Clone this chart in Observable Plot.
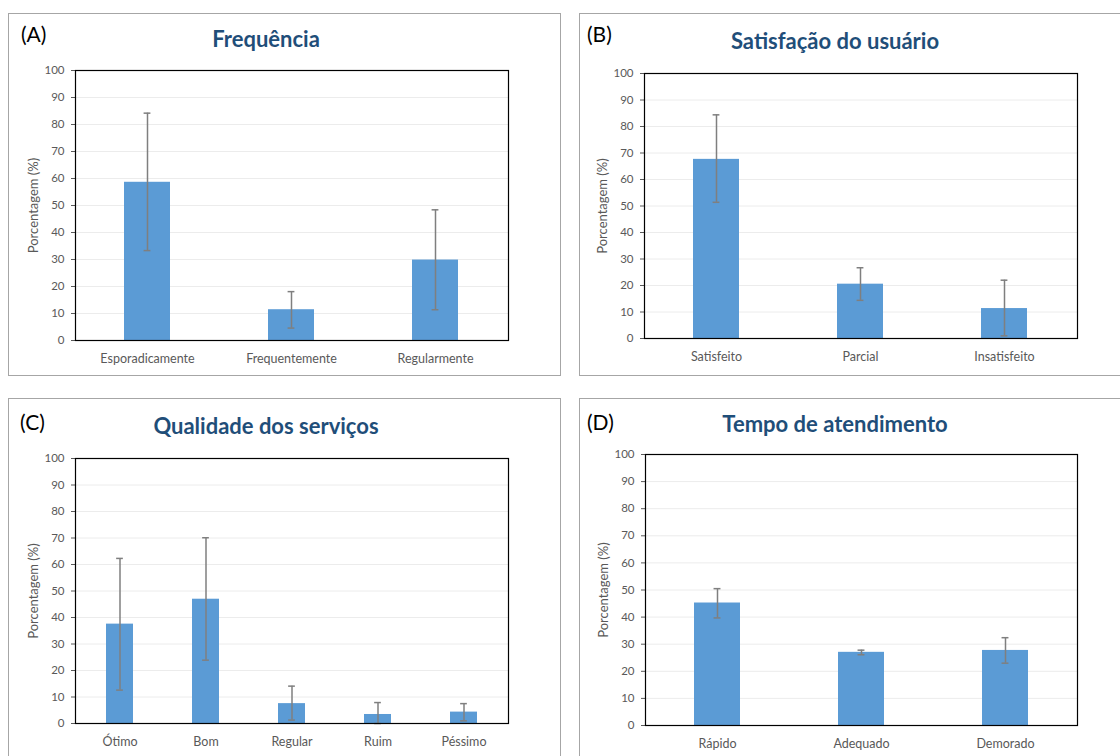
<!DOCTYPE html>
<html><head><meta charset="utf-8">
<script src="https://cdn.jsdelivr.net/npm/d3@7"></script>
<script src="https://cdn.jsdelivr.net/npm/@observablehq/plot@0.6"></script>
<style>
body{margin:0;background:#fff;font-family:Lato,sans-serif}
#root{position:relative;width:1120px;height:756px;overflow:hidden;background:#fff}
.panel{position:absolute;border:1.5px solid #a6a6a6;box-sizing:border-box;background:#fff}
.tag{position:absolute;font-size:21px;color:#000;line-height:1;font-family:Lato,sans-serif}
.title{position:absolute;font-size:22px;font-weight:bold;color:#1f4e79;transform:translateX(-50%);white-space:nowrap;line-height:1;font-family:Lato,sans-serif}
.chart{position:absolute}
</style></head><body><div id="root"></div>
<script>
// ---- data ----
const yTicks = [0,10,20,30,40,50,60,70,80,90,100];
const yLabel = "Porcentagem (%)";

const titleA = "Frequência";
const catsA = ["Esporadicamente","Frequentemente","Regularmente"];
const valsA = [58.6, 11.4, 29.8];
const lowA  = [33.3, 4.6, 11.4];
const highA = [84.2, 18.1, 48.4];

const titleB = "Satisfação do usuário";
const catsB = ["Satisfeito","Parcial","Insatisfeito"];
const valsB = [67.6, 20.5, 11.3];
const lowB  = [51.4, 14.4, 1.0];
const highB = [84.4, 26.7, 22.0];

const titleC = "Qualidade dos serviços";
const catsC = ["Ótimo","Bom","Regular","Ruim","Péssimo"];
const valsC = [37.5, 46.9, 7.5, 3.4, 4.3];
const lowC  = [12.6, 23.9, 1.3, 0.0, 1.0];
const highC = [62.3, 70.1, 14.1, 7.9, 7.5];

const titleD = "Tempo de atendimento";
const catsD = ["Rápido","Adequado","Demorado"];
const valsD = [45.2, 27.0, 27.7];
const lowD  = [39.7, 26.1, 23.0];
const highD = [50.5, 27.8, 32.4];

// ---- layout ----
const panels = [
  {tag:"(A)", title:titleA, cats:catsA, vals:valsA, lo:lowA, hi:highA,
   box:[8,13,553,363], tagPos:[21,23], titleX:266, titleTop:27.5,
   fl:75, fr:508, ft:70, fb:340, pad:0.68},
  {tag:"(B)", title:titleB, cats:catsB, vals:valsB, lo:lowB, hi:highB,
   box:[579,13,560,363], tagPos:[587,23], titleX:835, titleTop:29.5,
   fl:644, fr:1077, ft:73, fb:338, pad:0.68},
  {tag:"(C)", title:titleC, cats:catsC, vals:valsC, lo:lowC, hi:highC,
   box:[8,398,553,400], tagPos:[20,411], titleX:266, titleTop:414.5,
   fl:75, fr:508, ft:458, fb:723, pad:0.685},
  {tag:"(D)", title:titleD, cats:catsD, vals:valsD, lo:lowD, hi:highD,
   box:[579,398,560,400], tagPos:[587,411], titleX:835, titleTop:412.5,
   fl:645, fr:1077, ft:454, fb:725, pad:0.68}
];

const root = document.getElementById("root");
for (const p of panels) {
  const box = document.createElement("div");
  box.className = "panel";
  Object.assign(box.style, {left:p.box[0]+"px", top:p.box[1]+"px", width:p.box[2]+"px", height:p.box[3]+"px"});
  root.appendChild(box);

  const tag = document.createElement("div");
  tag.className = "tag"; tag.textContent = p.tag;
  Object.assign(tag.style, {left:p.tagPos[0]+"px", top:p.tagPos[1]+"px"});
  root.appendChild(tag);

  const t = document.createElement("div");
  t.className = "title"; t.textContent = p.title;
  Object.assign(t.style, {left:p.titleX+"px", top:p.titleTop+"px"});
  root.appendChild(t);

  const data = p.cats.map((c,i)=>({cat:c, v:p.vals[i], lo:p.lo[i], hi:p.hi[i]}));
  const fw = p.fr - p.fl, fh = p.fb - p.ft;
  const ml = 60, mr = 20, mt = 12, mb = 34;
  const bw = fw / p.cats.length * (1 - p.pad);
  const capInset = (bw - 7) / 2;
  const errStyle = {stroke:"#7f7f7f", strokeWidth:1.5};
  const svg = Plot.plot({
    width: fw + ml + mr, height: fh + mt + mb,
    marginLeft: ml, marginRight: mr, marginTop: mt, marginBottom: mb,
    style: {fontFamily:"Lato, sans-serif", fontSize:"11.5px", color:"#595959", background:"transparent", overflow:"visible"},
    x: {domain: p.cats, paddingInner: p.pad, paddingOuter: p.pad/2, label: null},
    y: {domain: [0,100], label: yLabel},
    marks: [
      Plot.ruleY(yTicks.filter(d => d > 0), {stroke:"#ececec", strokeWidth:1}),
      Plot.barY(data, {x:"cat", y:"v", fill:"#5b9bd5"}),
      Plot.ruleX(data, {x:"cat", y1:"lo", y2:"hi", ...errStyle}),
      Plot.tickY(data, {x:"cat", y:"hi", insetLeft:capInset, insetRight:capInset, ...errStyle}),
      Plot.tickY(data, {x:"cat", y:"lo", insetLeft:capInset, insetRight:capInset, ...errStyle}),
      Plot.axisX({tickSize:0, tickPadding:14, label:null, fontSize:12.5}),
      Plot.axisY({ticks: yTicks, tickSize:4, tickPadding:7, label:null, fontSize:11.5}),
      Plot.axisY({ticks: [], label:yLabel, labelAnchor:"center", labelArrow:"none", labelOffset:47, fontSize:13}),
      Plot.frame({stroke:"#000", strokeWidth:1.2})
    ]
  });
  svg.classList.add("chart");
  svg.style.position = "absolute";
  svg.style.left = (p.fl - ml) + "px";
  svg.style.top = (p.ft - mt) + "px";
  root.appendChild(svg);
}
</script>
</body></html>
